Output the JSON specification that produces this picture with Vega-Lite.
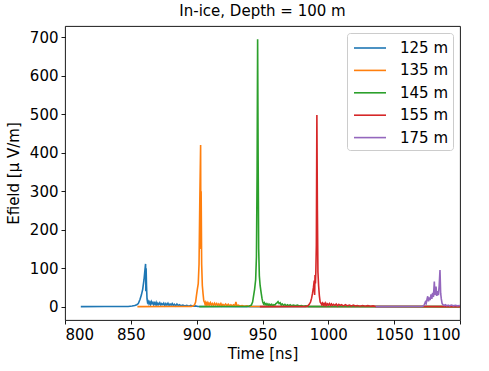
{
"$schema":"https://vega.github.io/schema/vega-lite/v6.json",
"width":395,"height":294,
"autosize":{"type":"none"},
"padding":{"left":65,"top":26,"right":29,"bottom":51},
"background":"white",
"title":{"text":"In-ice, Depth = 100 m","fontSize":15,"fontWeight":"normal","font":"DejaVu Sans","color":"black","offset":7},
"config":{
 "font":"DejaVu Sans",
 "view":{"stroke":"black","strokeWidth":0.9},
 "axis":{"domain":false,"grid":false,"labelFont":"DejaVu Sans","labelFontSize":15,"labelColor":"black","titleFont":"DejaVu Sans","titleFontSize":15,"titleFontWeight":"normal","titleColor":"black","tickColor":"black","tickSize":4,"tickWidth":0.9,"labelPadding":3},
 "legend":{"labelFont":"DejaVu Sans","labelFontSize":15,"labelColor":"black"}
},
"data":{"values":[
{"s":"125 m","t":812,"e":0},{"s":"125 m","t":830,"e":0.2},{"s":"125 m","t":848,"e":0.5},{"s":"125 m","t":851,"e":1.5},{"s":"125 m","t":853,"e":3},{"s":"125 m","t":854.5,"e":5},{"s":"125 m","t":855.7,"e":8},{"s":"125 m","t":857,"e":19},{"s":"125 m","t":858,"e":30},{"s":"125 m","t":859,"e":45},{"s":"125 m","t":860,"e":70},{"s":"125 m","t":860.7,"e":95},{"s":"125 m","t":861.2,"e":111},{"s":"125 m","t":861.4,"e":40},{"s":"125 m","t":861.6,"e":100},{"s":"125 m","t":861.9,"e":55},{"s":"125 m","t":862.3,"e":20},{"s":"125 m","t":862.7,"e":11},{"s":"125 m","t":863.2,"e":14},{"s":"125 m","t":863.8,"e":7},{"s":"125 m","t":864.4,"e":12},{"s":"125 m","t":865,"e":6},{"s":"125 m","t":865.6,"e":13},{"s":"125 m","t":866.2,"e":8},{"s":"125 m","t":866.8,"e":11},{"s":"125 m","t":867.4,"e":5},{"s":"125 m","t":868,"e":10},{"s":"125 m","t":868.6,"e":6},{"s":"125 m","t":869.2,"e":11},{"s":"125 m","t":869.8,"e":4},{"s":"125 m","t":870.5,"e":9},{"s":"125 m","t":871.2,"e":5},{"s":"125 m","t":872,"e":10},{"s":"125 m","t":872.8,"e":4},{"s":"125 m","t":873.5,"e":8},{"s":"125 m","t":874.3,"e":5},{"s":"125 m","t":875,"e":9},{"s":"125 m","t":875.8,"e":3},{"s":"125 m","t":876.6,"e":8},{"s":"125 m","t":877.4,"e":4},{"s":"125 m","t":878.2,"e":9},{"s":"125 m","t":879,"e":3},{"s":"125 m","t":879.8,"e":7},{"s":"125 m","t":880.6,"e":4},{"s":"125 m","t":881.4,"e":8},{"s":"125 m","t":882.2,"e":3},{"s":"125 m","t":883,"e":6},{"s":"125 m","t":884,"e":2},{"s":"125 m","t":885,"e":7},{"s":"125 m","t":886,"e":3},{"s":"125 m","t":887,"e":5},{"s":"125 m","t":888,"e":2},{"s":"125 m","t":889.5,"e":4},{"s":"125 m","t":891,"e":1.5},{"s":"125 m","t":892.5,"e":3.5},{"s":"125 m","t":894,"e":1},{"s":"125 m","t":895.5,"e":3},{"s":"125 m","t":897,"e":1},{"s":"125 m","t":899,"e":2},{"s":"125 m","t":901,"e":0.5},{"s":"125 m","t":905,"e":0.3},{"s":"125 m","t":950,"e":0},{"s":"125 m","t":1100,"e":0},
{"s":"135 m","t":855,"e":0},{"s":"135 m","t":880,"e":0.3},{"s":"135 m","t":896,"e":0.5},{"s":"135 m","t":897.5,"e":2},{"s":"135 m","t":898.4,"e":5},{"s":"135 m","t":899.2,"e":12},{"s":"135 m","t":899.8,"e":28},{"s":"135 m","t":900.5,"e":45},{"s":"135 m","t":901.2,"e":60},{"s":"135 m","t":901.8,"e":110},{"s":"135 m","t":902.4,"e":280},{"s":"135 m","t":903,"e":420},{"s":"135 m","t":903.2,"e":150},{"s":"135 m","t":903.4,"e":300},{"s":"135 m","t":903.8,"e":110},{"s":"135 m","t":904.3,"e":55},{"s":"135 m","t":904.9,"e":32},{"s":"135 m","t":905.4,"e":15},{"s":"135 m","t":905.9,"e":12},{"s":"135 m","t":906.4,"e":6},{"s":"135 m","t":906.9,"e":11},{"s":"135 m","t":907.4,"e":5},{"s":"135 m","t":908,"e":10},{"s":"135 m","t":908.6,"e":4},{"s":"135 m","t":909.2,"e":9},{"s":"135 m","t":909.8,"e":5},{"s":"135 m","t":910.5,"e":10},{"s":"135 m","t":911.2,"e":4},{"s":"135 m","t":912,"e":8},{"s":"135 m","t":912.8,"e":3},{"s":"135 m","t":913.6,"e":9},{"s":"135 m","t":914.4,"e":4},{"s":"135 m","t":915.2,"e":8},{"s":"135 m","t":916,"e":3},{"s":"135 m","t":916.8,"e":7},{"s":"135 m","t":917.6,"e":3},{"s":"135 m","t":918.4,"e":8},{"s":"135 m","t":919.2,"e":2},{"s":"135 m","t":920,"e":6},{"s":"135 m","t":921,"e":3},{"s":"135 m","t":922,"e":7},{"s":"135 m","t":923,"e":2},{"s":"135 m","t":924,"e":6},{"s":"135 m","t":925,"e":2},{"s":"135 m","t":926,"e":5},{"s":"135 m","t":927,"e":2},{"s":"135 m","t":928,"e":5},{"s":"135 m","t":929,"e":2},{"s":"135 m","t":929.8,"e":12},{"s":"135 m","t":930.5,"e":2},{"s":"135 m","t":931.5,"e":4},{"s":"135 m","t":933,"e":1.5},{"s":"135 m","t":934.5,"e":3},{"s":"135 m","t":936,"e":1},{"s":"135 m","t":938,"e":2},{"s":"135 m","t":940,"e":0.5},{"s":"135 m","t":950,"e":0.2},{"s":"135 m","t":1100,"e":0},
{"s":"145 m","t":902,"e":0},{"s":"145 m","t":920,"e":0.3},{"s":"145 m","t":938,"e":0.5},{"s":"145 m","t":940,"e":1.5},{"s":"145 m","t":941.5,"e":4},{"s":"145 m","t":942.5,"e":12},{"s":"145 m","t":943.3,"e":30},{"s":"145 m","t":944,"e":45},{"s":"145 m","t":944.8,"e":70},{"s":"145 m","t":945.4,"e":130},{"s":"145 m","t":945.9,"e":350},{"s":"145 m","t":946.3,"e":695},{"s":"145 m","t":946.7,"e":380},{"s":"145 m","t":947.1,"e":150},{"s":"145 m","t":947.6,"e":80},{"s":"145 m","t":948.2,"e":55},{"s":"145 m","t":948.9,"e":38},{"s":"145 m","t":949.6,"e":22},{"s":"145 m","t":950.2,"e":12},{"s":"145 m","t":950.8,"e":7},{"s":"145 m","t":951.4,"e":10},{"s":"145 m","t":952,"e":5},{"s":"145 m","t":952.7,"e":8},{"s":"145 m","t":953.4,"e":4},{"s":"145 m","t":954.1,"e":7},{"s":"145 m","t":954.8,"e":3},{"s":"145 m","t":955.5,"e":6},{"s":"145 m","t":956.2,"e":3},{"s":"145 m","t":957,"e":6},{"s":"145 m","t":957.8,"e":2},{"s":"145 m","t":958.6,"e":5},{"s":"145 m","t":959.4,"e":4},{"s":"145 m","t":960.2,"e":8},{"s":"145 m","t":961,"e":10},{"s":"145 m","t":961.8,"e":13},{"s":"145 m","t":962.6,"e":8},{"s":"145 m","t":963.4,"e":10},{"s":"145 m","t":964.2,"e":4},{"s":"145 m","t":965,"e":7},{"s":"145 m","t":966,"e":3},{"s":"145 m","t":967,"e":6},{"s":"145 m","t":968,"e":2},{"s":"145 m","t":969,"e":5},{"s":"145 m","t":970,"e":2},{"s":"145 m","t":971,"e":5},{"s":"145 m","t":972,"e":2},{"s":"145 m","t":973.5,"e":4},{"s":"145 m","t":975,"e":2},{"s":"145 m","t":976.5,"e":4},{"s":"145 m","t":978,"e":1.5},{"s":"145 m","t":979.5,"e":3},{"s":"145 m","t":981,"e":1},{"s":"145 m","t":983,"e":2},{"s":"145 m","t":985,"e":0.5},{"s":"145 m","t":995,"e":0.2},{"s":"145 m","t":1100,"e":0},
{"s":"155 m","t":948,"e":0},{"s":"155 m","t":970,"e":0.3},{"s":"155 m","t":983,"e":0.5},{"s":"155 m","t":984.5,"e":2},{"s":"155 m","t":985.5,"e":6},{"s":"155 m","t":986.5,"e":12},{"s":"155 m","t":987.3,"e":22},{"s":"155 m","t":988,"e":35},{"s":"155 m","t":988.7,"e":50},{"s":"155 m","t":989.3,"e":68},{"s":"155 m","t":989.6,"e":30},{"s":"155 m","t":989.9,"e":82},{"s":"155 m","t":990.2,"e":60},{"s":"155 m","t":990.5,"e":88},{"s":"155 m","t":990.9,"e":160},{"s":"155 m","t":991.3,"e":498},{"s":"155 m","t":991.7,"e":250},{"s":"155 m","t":992.1,"e":90},{"s":"155 m","t":992.6,"e":55},{"s":"155 m","t":993.2,"e":28},{"s":"155 m","t":993.8,"e":12},{"s":"155 m","t":994.4,"e":9},{"s":"155 m","t":995,"e":5},{"s":"155 m","t":995.6,"e":9},{"s":"155 m","t":996.2,"e":4},{"s":"155 m","t":996.8,"e":8},{"s":"155 m","t":997.4,"e":4},{"s":"155 m","t":998,"e":9},{"s":"155 m","t":998.6,"e":3},{"s":"155 m","t":999.3,"e":7},{"s":"155 m","t":1000,"e":4},{"s":"155 m","t":1000.8,"e":8},{"s":"155 m","t":1001.6,"e":3},{"s":"155 m","t":1002.4,"e":7},{"s":"155 m","t":1003.2,"e":3},{"s":"155 m","t":1004,"e":6},{"s":"155 m","t":1005,"e":3},{"s":"155 m","t":1006,"e":7},{"s":"155 m","t":1007,"e":2},{"s":"155 m","t":1008,"e":6},{"s":"155 m","t":1009,"e":3},{"s":"155 m","t":1010,"e":5},{"s":"155 m","t":1011.5,"e":2},{"s":"155 m","t":1013,"e":5},{"s":"155 m","t":1014.5,"e":2},{"s":"155 m","t":1016,"e":4},{"s":"155 m","t":1017.5,"e":1.5},{"s":"155 m","t":1019,"e":4},{"s":"155 m","t":1020.5,"e":1.5},{"s":"155 m","t":1022,"e":3},{"s":"155 m","t":1024,"e":1},{"s":"155 m","t":1026,"e":3},{"s":"155 m","t":1028,"e":1},{"s":"155 m","t":1030,"e":2.5},{"s":"155 m","t":1032,"e":1},{"s":"155 m","t":1034,"e":2},{"s":"155 m","t":1036,"e":0.5},{"s":"155 m","t":1060,"e":0.2},{"s":"155 m","t":1100,"e":0},
{"s":"175 m","t":1036,"e":0},{"s":"175 m","t":1060,"e":0.3},{"s":"175 m","t":1071,"e":0.5},{"s":"175 m","t":1072.2,"e":2},{"s":"175 m","t":1073,"e":6},{"s":"175 m","t":1073.7,"e":12},{"s":"175 m","t":1074.3,"e":8},{"s":"175 m","t":1075,"e":20},{"s":"175 m","t":1075.5,"e":27},{"s":"175 m","t":1076.1,"e":14},{"s":"175 m","t":1076.7,"e":24},{"s":"175 m","t":1077.3,"e":17},{"s":"175 m","t":1078,"e":32},{"s":"175 m","t":1078.6,"e":20},{"s":"175 m","t":1079.2,"e":36},{"s":"175 m","t":1079.8,"e":25},{"s":"175 m","t":1080.5,"e":65},{"s":"175 m","t":1081,"e":30},{"s":"175 m","t":1081.8,"e":52},{"s":"175 m","t":1082.4,"e":28},{"s":"175 m","t":1083,"e":40},{"s":"175 m","t":1083.6,"e":30},{"s":"175 m","t":1084.2,"e":55},{"s":"175 m","t":1084.8,"e":95},{"s":"175 m","t":1085.3,"e":35},{"s":"175 m","t":1085.8,"e":20},{"s":"175 m","t":1086.4,"e":8},{"s":"175 m","t":1087,"e":5},{"s":"175 m","t":1088,"e":3},{"s":"175 m","t":1089,"e":5},{"s":"175 m","t":1090,"e":2},{"s":"175 m","t":1091,"e":4},{"s":"175 m","t":1092,"e":2},{"s":"175 m","t":1093.5,"e":4},{"s":"175 m","t":1095,"e":2},{"s":"175 m","t":1096.5,"e":3.5},{"s":"175 m","t":1098,"e":2},{"s":"175 m","t":1100,"e":3}
]},
"mark":{"type":"line","strokeWidth":1.6,"clip":true,"interpolate":"linear"},
"encoding":{
 "x":{"field":"t","type":"quantitative","scale":{"domain":[800,1100],"nice":false,"zero":false},"axis":{"values":[800,850,900,950,1000,1050,1100],"format":"d","title":"Time [ns]","titlePadding":4}},
 "y":{"field":"e","type":"quantitative","scale":{"domain":[-34.75,729.75],"nice":false,"zero":false},"axis":{"values":[0,100,200,300,400,500,600,700],"format":"d","title":"Efield [μ V/m]","titlePadding":8}},
 "color":{"field":"s","type":"nominal","scale":{"domain":["125 m","135 m","145 m","155 m","175 m"],"range":["#1f77b4","#ff7f0e","#2ca02c","#d62728","#9467bd"]},
  "legend":{"title":null,"orient":"top-right","offset":7,"symbolType":"M-1.6,0H1.6","symbolSize":400,"symbolStrokeWidth":1.6,"symbolFillColor":"transparent","symbolOffset":8,"labelOffset":19,"padding":4,"rowPadding":3.4,"fillColor":"rgba(255,255,255,0.8)","strokeColor":"#cccccc","cornerRadius":3}}
}
}
